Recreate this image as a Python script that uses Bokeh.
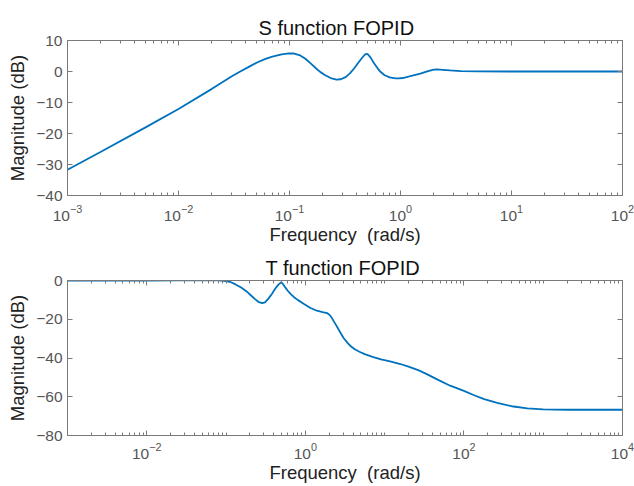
from bokeh.plotting import figure
from bokeh.layouts import column
from bokeh.models import FixedTicker, LinearAxis, LogAxis, Range1d, LogTickFormatter
from bokeh.embed import file_html
from bokeh.resources import INLINE

# ---------------- data ----------------
s_freq = [0.001, 0.002, 0.005, 0.01, 0.02, 0.03, 0.036, 0.043, 0.051, 0.06, 0.07,
          0.085, 0.099, 0.11, 0.125, 0.139, 0.155, 0.175, 0.19, 0.21, 0.235, 0.265,
          0.29, 0.32, 0.35, 0.38, 0.42, 0.455, 0.48, 0.494, 0.51, 0.54, 0.58, 0.62,
          0.66, 0.72, 0.8, 0.9, 0.966, 1.05, 1.2, 1.51, 1.8, 2.0, 2.14, 2.4, 2.8,
          3.5, 5.0, 10.0, 100.0]
s_mag = [-31.7, -25.9, -18.1, -12.1, -5.6, -1.6, 0.0, 1.5, 2.9, 4.0, 4.8,
         5.55, 5.85, 5.8, 5.2, 4.1, 2.6, 0.9, -0.2, -1.2, -2.1, -2.6,
         -2.5, -1.8, -0.6, 0.9, 3.0, 4.6, 5.5, 5.7, 5.5, 4.4, 2.6, 1.1,
         -0.1, -1.2, -1.9, -2.2, -2.25, -2.1, -1.6, -0.7, 0.2, 0.6, 0.7, 0.55, 0.35,
         0.15, 0.05, 0.0, 0.0]

t_freq = [0.001, 0.01, 0.06, 0.08, 0.1, 0.115, 0.13, 0.155, 0.18, 0.205, 0.23,
          0.255, 0.285, 0.31, 0.34, 0.38, 0.42, 0.46, 0.5, 0.53, 0.56, 0.6, 0.65,
          0.72, 0.8, 0.95, 1.16, 1.4, 1.65, 1.88, 2.05, 2.19, 2.4, 2.75, 3.05, 3.4,
          3.7, 4.2, 4.8, 5.6, 7.2, 9.0, 11.7, 15.8, 20.0, 27.0, 34.0, 48.0, 67.0,
          100.0, 132.0, 180.0, 263.0, 400.0, 631.0, 1000.0, 2000.0, 10000.0]
t_mag = [0.0, 0.0, 0.2, 0.1, -0.3, -0.9, -1.9, -3.6, -5.5, -7.6, -9.5,
         -11.0, -11.7, -11.3, -9.5, -6.8, -4.0, -2.0, -0.9, -2.2, -3.7, -5.3, -6.9,
         -8.6, -10.0, -12.0, -14.2, -15.6, -16.3, -16.8, -18.0, -19.8, -22.5, -26.7, -29.8, -32.2,
         -33.8, -35.5, -36.8, -38.0, -39.5, -40.7, -41.7, -43.1, -44.5, -46.4, -48.3, -51.4, -54.3,
         -57.0, -59.1, -61.2, -63.2, -64.9, -66.0, -66.5, -66.7, -66.7]

top_xticks = [1e-3, 1e-2, 1e-1, 1e0, 1e1, 1e2]
top_yticks = [-40, -30, -20, -10, 0, 10]

bot_xticks = [1e-2, 1e0, 1e2, 1e4]
bot_yticks = [-80, -60, -40, -20, 0]

top_title = "S function FOPID"
bot_title = "T function FOPID"
x_label = "Frequency\u00a0 (rad/s)"
y_label = "Magnitude (dB)"

FONT = "Liberation Sans"
LINE = "#0072BD"
FRAME = "#7a7a7a"
TICKTXT = "#555555"
TICK_PX = "15.5px"
LABEL_PX = "18.5px"
TITLE_PX = "20px"


def minor_list(lo_exp, hi_exp, extra=()):
    out = []
    for k in range(lo_exp, hi_exp):
        for m in range(2, 10):
            out.append(m * 10.0 ** k)
    out.extend(extra)
    return out


def style_axis(ax):
    ax.axis_line_color = FRAME
    ax.major_tick_line_color = FRAME
    ax.minor_tick_line_color = FRAME
    ax.major_tick_in = 5
    ax.major_tick_out = 0
    ax.minor_tick_in = 3
    ax.minor_tick_out = 0


def make_fig(title, title_off, xr, yr, xt, xminor, yt, height, top_b, bot_b,
             tick_standoff, xlab_standoff):
    p = figure(width=634, height=height, x_axis_type="log",
               x_range=Range1d(*xr), y_range=Range1d(*yr),
               output_backend="svg", toolbar_location=None,
               min_border_left=67, min_border_right=12,
               min_border_top=top_b, min_border_bottom=bot_b)
    p.title.text = title
    p.title.align = "left"
    p.title.offset = title_off
    p.title.text_font = FONT
    p.title.text_font_size = TITLE_PX
    p.title.text_font_style = "normal"
    p.title.text_color = "#111111"
    p.title.standoff = 3
    p.grid.visible = False
    p.outline_line_color = FRAME
    p.outline_line_width = 1
    p.background_fill_color = "white"
    p.border_fill_color = "white"

    xa = p.xaxis[0]
    xa.ticker = FixedTicker(ticks=xt, minor_ticks=xminor)
    xa.formatter = LogTickFormatter()
    ya = p.yaxis[0]
    ya.ticker = FixedTicker(ticks=yt, minor_ticks=[])

    for ax in (xa, ya):
        style_axis(ax)
        ax.major_label_text_font = FONT
        ax.major_label_text_font_size = TICK_PX
        ax.major_label_text_color = TICKTXT
        ax.axis_label_text_font = FONT
        ax.axis_label_text_font_size = LABEL_PX
        ax.axis_label_text_font_style = "normal"
        ax.axis_label_text_color = "#222222"
    xa.axis_label = x_label
    xa.major_label_standoff = tick_standoff
    xa.axis_label_standoff = xlab_standoff
    ya.axis_label = y_label
    ya.major_label_standoff = 5
    ya.axis_label_standoff = 5

    # box ticks on the opposite sides (labels invisible)
    xa2 = LogAxis(ticker=FixedTicker(ticks=xt, minor_ticks=xminor))
    ya2 = LinearAxis(ticker=FixedTicker(ticks=yt, minor_ticks=[]))
    for ax in (xa2, ya2):
        style_axis(ax)
        ax.major_label_text_font_size = "1px"
        ax.major_label_text_alpha = 0
        ax.major_label_standoff = 0
    p.add_layout(xa2, "above")
    p.add_layout(ya2, "right")
    return p


top = make_fig(top_title, 191, (1e-3, 1e2), (-40, 10), top_xticks,
               minor_list(-3, 2), top_yticks, 248, 40, 53, 9, 0)
top.line(s_freq, s_mag, line_color=LINE, line_width=1.8)

bot = make_fig(bot_title, 198, (1e-3, 1e4), (-80, 0), bot_xticks,
               minor_list(-3, 4, extra=(1e-3, 1e-1, 1e1, 1e3)), bot_yticks, 238, 32, 51, 7, 0)
bot.line(t_freq, t_mag, line_color=LINE, line_width=1.8)

layout = column(top, bot, spacing=0)
open("out.html", "w").write(file_html(layout, INLINE))
